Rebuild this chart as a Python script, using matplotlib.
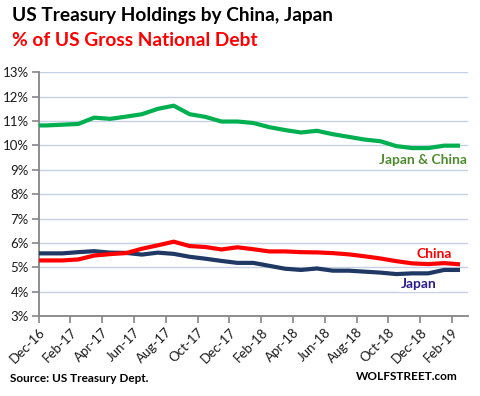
import numpy as np
import matplotlib
matplotlib.use("Agg")
import matplotlib.pyplot as plt

plt.rcParams['font.family'] = ['Lato', 'DejaVu Sans']

# Monthly data (mid-month), Nov-16 .. Feb-19 (Nov-16 only partly visible at axis edge)
months = ['Nov-16', 'Dec-16', 'Jan-17', 'Feb-17', 'Mar-17', 'Apr-17', 'May-17', 'Jun-17',
          'Jul-17', 'Aug-17', 'Sep-17', 'Oct-17', 'Nov-17', 'Dec-17', 'Jan-18', 'Feb-18',
          'Mar-18', 'Apr-18', 'May-18', 'Jun-18', 'Jul-18', 'Aug-18', 'Sep-18', 'Oct-18',
          'Nov-18', 'Dec-18', 'Jan-19', 'Feb-19']
japan_china = [10.82, 10.82, 10.85, 10.88, 11.14, 11.09, 11.18, 11.28, 11.50, 11.63, 11.28,
               11.17, 10.98, 10.98, 10.92, 10.75, 10.63, 10.53, 10.60, 10.46, 10.35, 10.24,
               10.17, 9.97, 9.89, 9.89, 9.99, 9.99]
china = [5.28, 5.28, 5.28, 5.32, 5.48, 5.54, 5.58, 5.76, 5.90, 6.05, 5.87, 5.83, 5.73, 5.82,
         5.74, 5.65, 5.65, 5.62, 5.61, 5.58, 5.53, 5.45, 5.36, 5.25, 5.16, 5.13, 5.17, 5.12]
japan = [5.57, 5.57, 5.57, 5.62, 5.66, 5.60, 5.59, 5.52, 5.60, 5.55, 5.43, 5.35, 5.26, 5.18,
         5.18, 5.06, 4.94, 4.89, 4.95, 4.86, 4.86, 4.82, 4.78, 4.72, 4.75, 4.75, 4.89, 4.89]
tick_labels = ['Dec-16', 'Feb-17', 'Apr-17', 'Jun-17', 'Aug-17', 'Oct-17', 'Dec-17',
               'Feb-18', 'Apr-18', 'Jun-18', 'Aug-18', 'Oct-18', 'Dec-18', 'Feb-19']
y_ticks = [3, 4, 5, 6, 7, 8, 9, 10, 11, 12, 13]

# month index relative to start of Dec-16, points plotted mid-month
x = np.arange(len(months)) - 1 + 0.5

fig = plt.figure(figsize=(4.81, 3.96), dpi=100)
ax = fig.add_axes([38.5 / 481, 1 - 316 / 396, (468 - 38.5) / 481, (316 - 72.3) / 396])

green = '#00B050'
red = '#FF0000'
navy = '#1F3864'

ax.plot(x, japan_china, color=green, lw=3, solid_capstyle='butt', zorder=3)
ax.plot(x, japan, color=navy, lw=3, solid_capstyle='butt', zorder=3)
ax.plot(x, china, color=red, lw=3, solid_capstyle='butt', zorder=4)

ax.set_xlim(0, 27)
ax.set_ylim(3, 13)
ax.set_yticks(y_ticks)
ax.set_yticklabels([f'{v}%' for v in y_ticks], fontsize=9.5, color='#1a1a1a')
ax.set_xticks(np.arange(0, 2 * len(tick_labels), 2))
ax.set_xticklabels(tick_labels, rotation=45, ha='right', va='top',
                   rotation_mode='anchor', fontsize=9.5, color='#1a1a1a')

ax.grid(axis='y', color='#C5D1E3', lw=1, zorder=0)
ax.set_axisbelow(True)
for s in ['top', 'right']:
    ax.spines[s].set_visible(False)
for s in ['left', 'bottom']:
    ax.spines[s].set_color('#868686')
    ax.spines[s].set_linewidth(1.3)
ax.tick_params(axis='both', direction='out', length=5, width=1.2, color='#868686', pad=2)

ax.text(24.17, 9.39, 'Japan & China', color='#4E8B2E', fontsize=10, fontweight='bold',
        ha='center', va='center', clip_on=False, zorder=5,
        bbox=dict(facecolor='white', edgecolor='none', pad=1))
ax.text(24.87, 5.54, 'China', color=red, fontsize=10, fontweight='bold',
        ha='center', va='center', zorder=5,
        bbox=dict(facecolor='white', edgecolor='none', pad=1))
ax.text(23.9, 4.30, 'Japan', color='#2B1B8F', fontsize=10, fontweight='bold',
        ha='center', va='center', zorder=5,
        bbox=dict(facecolor='white', edgecolor='none', pad=1))

fig.text(12 / 481, 1 - 15 / 396, 'US Treasury Holdings by China, Japan', fontsize=13.8,
         fontweight='bold', color='black', ha='left', va='center')
fig.text(12 / 481, 1 - 41 / 396, '% of US Gross National Debt', fontsize=13.8,
         fontweight='bold', color=red, ha='left', va='center')
fig.text(10 / 481, 1 - 379 / 396, 'Source: US Treasury Dept.', fontsize=8.5,
         fontweight='bold', color='black', ha='left', va='center')
fig.text(458 / 481, 1 - 377 / 396, 'WOLFSTREET.com', fontsize=8.5,
         fontweight='bold', color='black', ha='right', va='center')

fig.savefig('out.png', dpi=100)
